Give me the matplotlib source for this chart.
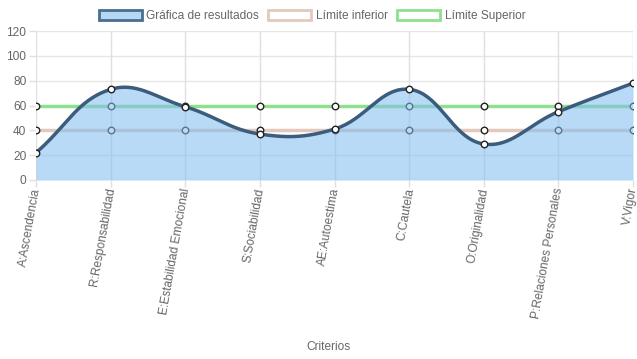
import numpy as np
import matplotlib
matplotlib.use("Agg")
import matplotlib.pyplot as plt
import matplotlib.transforms as mtransforms
from matplotlib.patches import Patch

plt.rcParams['font.family'] = ['Liberation Sans', 'DejaVu Sans']

categories = ["A:Ascendencia", "R:Responsabilidad", "E:Estabilidad Emocional",
              "S:Sociabilidad", "AE:Autoestima", "C:Cautela", "O:Originalidad",
              "P:Relaciones Personales", "V:Vigor"]
resultados = [22, 73, 59, 37, 41, 73, 29, 55, 78]
limite_inferior = [40, 40, 40, 40, 40, 40, 40, 40, 40]
limite_superior = [60, 60, 60, 60, 60, 60, 60, 60, 60]
yticks = [0, 20, 40, 60, 80, 100, 120]

W, H = 637, 359
fig = plt.figure(figsize=(W / 100, H / 100), dpi=100)
L, R, T, B = 36, 633, 31, 180
ax = fig.add_axes([L / W, 1 - B / H, (R - L) / W, (B - T) / H])
n = len(categories)
ax.set_xlim(0, n - 1)
ax.set_ylim(0, 120)

# chart.js-like spline (tension 0.4) computed in pixel space
sx = (R - L) / (n - 1)
sy = (B - T) / 120.0
def spline(xs, ys, t=0.4, steps=40):
    P = np.column_stack([np.array(xs, float) * sx, np.array(ys, float) * sy])
    m = len(P)
    cps = []
    for i in range(m):
        prev = P[max(i - 1, 0)]
        cur = P[i]
        nxt = P[min(i + 1, m - 1)]
        d01 = np.hypot(*(cur - prev))
        d12 = np.hypot(*(nxt - cur))
        tot = d01 + d12
        s01 = d01 / tot if tot else 0
        s12 = d12 / tot if tot else 0
        fa, fb = t * s01, t * s12
        cpp = cur - fa * (nxt - prev)
        cpn = cur + fb * (nxt - prev)
        cps.append((cpp, cpn))
    out = []
    tt = np.linspace(0, 1, steps)[:, None]
    for i in range(m - 1):
        p0, p3 = P[i], P[i + 1]
        p1, p2 = cps[i][1], cps[i + 1][0]
        seg = ((1 - tt) ** 3) * p0 + 3 * ((1 - tt) ** 2) * tt * p1 + 3 * (1 - tt) * tt ** 2 * p2 + tt ** 3 * p3
        out.append(seg if i == 0 else seg[1:])
    out = np.vstack(out)
    return out[:, 0] / sx, out[:, 1] / sy

x = np.arange(n)
# grid
for v in yticks:
    ax.axhline(v, color='#cfcfcf' if v == 0 else '#e6e6e6', lw=1, zorder=0)
for xi in x:
    ax.axvline(xi, color='#e0e0e0', lw=1, zorder=0)
for s in ax.spines.values():
    s.set_visible(False)

# limit lines
ax.plot(x, limite_inferior, color='#e3c9bd', lw=2.5, zorder=2)
ax.plot(x, limite_superior, color='#8ee08e', lw=2.5, zorder=2)
ax.scatter(x, limite_inferior, s=22, facecolor='white', edgecolor='#222222', lw=1, zorder=2.5)
ax.scatter(x, limite_superior, s=22, facecolor='white', edgecolor='#222222', lw=1, zorder=2.5)

cx, cy = spline(x, resultados)
cy = np.clip(cy, 0, 120)
ax.fill_between(cx, 0, cy, color='#7fbdf0', alpha=0.55, lw=0, zorder=3)
ax.plot(cx, cy, color='#3b5c7c', lw=2.5, zorder=4)
ax.scatter(x, resultados, s=22, facecolor='white', edgecolor='#222222', lw=1, zorder=5)

ax.set_xticks(x)
ax.set_xticklabels([])
offset = mtransforms.ScaledTranslation(1.0 / 100, -8.0 / 100, fig.dpi_scale_trans)
for xi, lab in zip(x, categories):
    ax.text(xi, 0, lab, transform=ax.get_xaxis_transform() + offset,
            rotation=80, ha='right', va='center', rotation_mode='anchor',
            fontsize=8.6, color='#666666', clip_on=False)
ax.set_yticks(yticks)
ax.set_yticklabels([str(v) for v in yticks], fontsize=8.6, color='#666666')
ax.tick_params(axis='both', length=5, color='#e0e0e0', width=1, pad=2)
fig.text((L + R) / 2 / W - 0.01, 1 - 347 / H, "Criterios", ha='center', va='center',
         fontsize=8.6, color='#666666')

handles = [Patch(facecolor='#b7d8f5', edgecolor='#4a6e8f', lw=2),
           Patch(facecolor='white', edgecolor='#e3c9bd', lw=2),
           Patch(facecolor='white', edgecolor='#8ee08e', lw=2)]
labels = ["Gráfica de resultados", "Límite inferior", "Límite Superior"]
fig.legend(handles, labels, loc='center', bbox_to_anchor=(312 / W, 1 - 16 / H), ncol=3,
           frameon=False, fontsize=8.6, handlelength=3.6, handleheight=0.95,
           handletextpad=0.4, columnspacing=0.75, labelcolor='#666666')

fig.savefig("out.png", dpi=100)
